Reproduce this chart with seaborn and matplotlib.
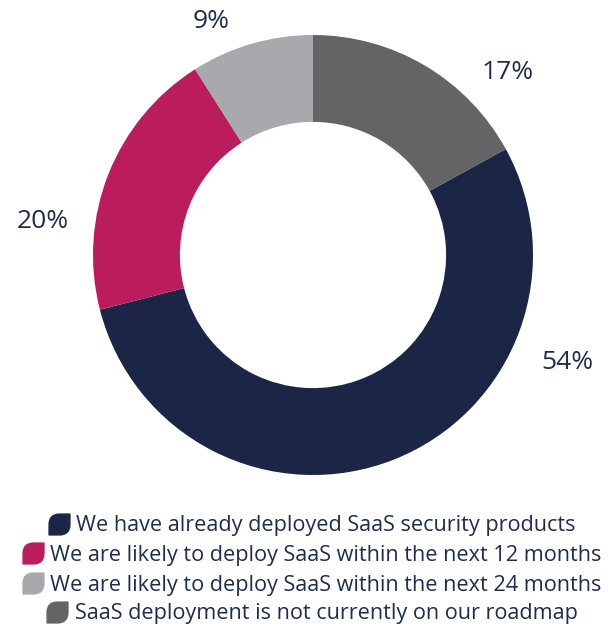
import numpy as np
import matplotlib
matplotlib.use("Agg")
import matplotlib.pyplot as plt
from matplotlib.path import Path
from matplotlib.lines import Line2D
import seaborn as sns

# Survey results
categories = [
    "We have already deployed SaaS security products",
    "We are likely to deploy SaaS within the next 12 months",
    "We are likely to deploy SaaS within the next 24 months",
    "SaaS deployment is not currently on our roadmap",
]
shares = [54, 20, 9, 17]
value_labels = ["54%", "20%", "9%", "17%"]
colors = ["#1b2646", "#bb1c5b", "#a7a9ac", "#636466"]
text_color = "#1f2d4d"

sns.set_theme(style="white")
plt.rcParams["font.family"] = ["Open Sans", "DejaVu Sans"]

W, H = 608, 629
fig = plt.figure(figsize=(W / 100, H / 100), dpi=100)

cx, cy, r = 313, 255, 220
ax = fig.add_axes([(cx - r) / W, (H - cy - r) / H, 2 * r / W, 2 * r / H])

# Clockwise from 12 o'clock, last category first
start = 90 - shares[-1] / sum(shares) * 360
ax.pie(shares, colors=colors, startangle=start, counterclock=False,
       radius=1, wedgeprops=dict(width=0.395, linewidth=0))
ax.set_xlim(-1, 1)
ax.set_ylim(-1, 1)
ax.set_aspect("equal")
ax.axis("off")

# Percentage labels outside the ring
label_pos = [(1.155, -0.49), (-1.23, 0.15), (-0.465, 1.06), (0.885, 0.83)]
for (x, y), t in zip(label_pos, value_labels):
    ax.text(x, y, t, ha="center", va="center", fontsize=19,
            color=text_color, clip_on=False)

# Leaf-shaped legend marker: rounded top-left and bottom-right corners
verts = [(-1, 0), (-1, 1), (0, 1), (1, 1), (1, -0), (1, -1), (0, -1),
         (-1, -1), (-1, 0)]
codes = [Path.MOVETO, Path.CURVE3, Path.CURVE3, Path.LINETO, Path.LINETO,
         Path.CURVE3, Path.CURVE3, Path.LINETO, Path.CLOSEPOLY]
leaf = Path(verts, codes)

# One centred legend row per category
row_y = [526, 555, 585, 614]
for cat, col, yy in zip(categories, colors, row_y):
    h = Line2D([], [], marker=leaf, linestyle="none", color=col,
               markersize=15)
    fig.legend(handles=[h], labels=[cat], loc="center",
               bbox_to_anchor=(cx / W, 1 - yy / H), frameon=False,
               handlelength=0.8, handletextpad=0.4, borderpad=0,
               fontsize=15.6, labelcolor=text_color)

fig.savefig("out.png", dpi=100)
